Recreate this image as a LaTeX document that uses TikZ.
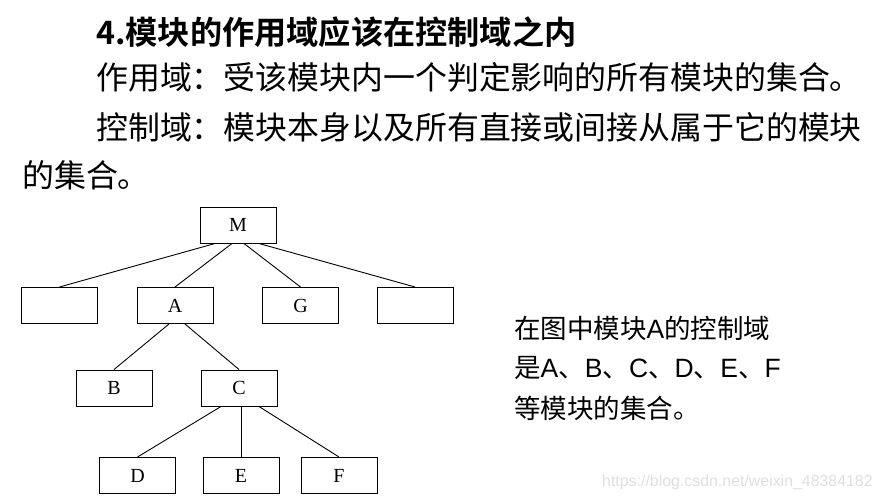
\documentclass[tikz,border=0pt]{standalone}
\usepackage{fontspec}
\setmainfont{Liberation Serif}
\newfontfamily\cjk[BoldFont={Noto Sans CJK SC Bold}]{Noto Sans CJK SC}
\newfontfamily\latin{Liberation Sans}
\newfontfamily\wmfont{Liberation Sans}

\begin{document}
\begin{tikzpicture}[x=1pt, y=-1pt,
    modbox/.style={draw, line width=1pt, minimum width=76pt, minimum height=36pt, inner sep=0pt, font=\fontsize{20}{20}\selectfont},
    txt/.style={anchor=west, inner sep=0pt, font=\cjk\fontsize{31.9}{32}\selectfont},
    note/.style={anchor=west, inner sep=0pt, font=\cjk\fontsize{26.5}{27}\selectfont}]
    \useasboundingbox (0,0) rectangle (883,500);
    % heading and definitions
    \node[txt, font=\cjk\bfseries\fontsize{32.2}{33}\selectfont] (head) at (96,32) {4.模块的作用域应该在控制域之内};
    \node[txt] (line1) at (96,77) {作用域：受该模块内一个判定影响的所有模块的集合。};
    \node[txt] (line2) at (96,127) {控制域：模块本身以及所有直接或间接从属于它的模块};
    \node[txt] (line3) at (22,175) {的集合。};
    % module tree
    \node[modbox] (M) at (238,225) {M};
    \foreach \n/\x/\t in {L/59.5/{}, A/175/A, G/300.5/G, R/415/{}} {
        \node[modbox] (\n) at (\x,305.5) {\t};
    }
    \node[modbox] (B) at (114,388) {B};
    \node[modbox] (C) at (239,388) {C};
    \foreach \n/\x in {D/137.5, E/241, F/339} {
        \node[modbox] (\n) at (\x,475.5) {\n};
    }
    \foreach \c/\s in {L/-23, A/-6, G/6, R/21} {
        \draw[line width=0.9pt] ([xshift=\s pt]M.south) -- (\c.north);
    }
    \foreach \c/\s in {B/-6, C/10} {
        \draw[line width=0.9pt] ([xshift=\s pt]A.south) -- (\c.north);
    }
    \foreach \c/\s in {D/-18, E/2, F/20} {
        \draw[line width=0.9pt] ([xshift=\s pt]C.south) -- (\c.north);
    }
    % note on the right
    \node[note] (n1) at (514,328) {在图中模块{\latin A}的控制域};
    \node[note] (n2) at (514,368) {是{\latin A}、{\latin B}、{\latin C}、{\latin D}、{\latin E}、{\latin F}};
    \node[note] (n3) at (514,408) {等模块的集合。};
    \node[anchor=west, inner sep=0pt, text=gray!25, font=\wmfont\fontsize{15.9}{16}\selectfont] (wm) at (602,482) {https://blog.csdn.net/weixin\_48384182};
\end{tikzpicture}
\end{document}
